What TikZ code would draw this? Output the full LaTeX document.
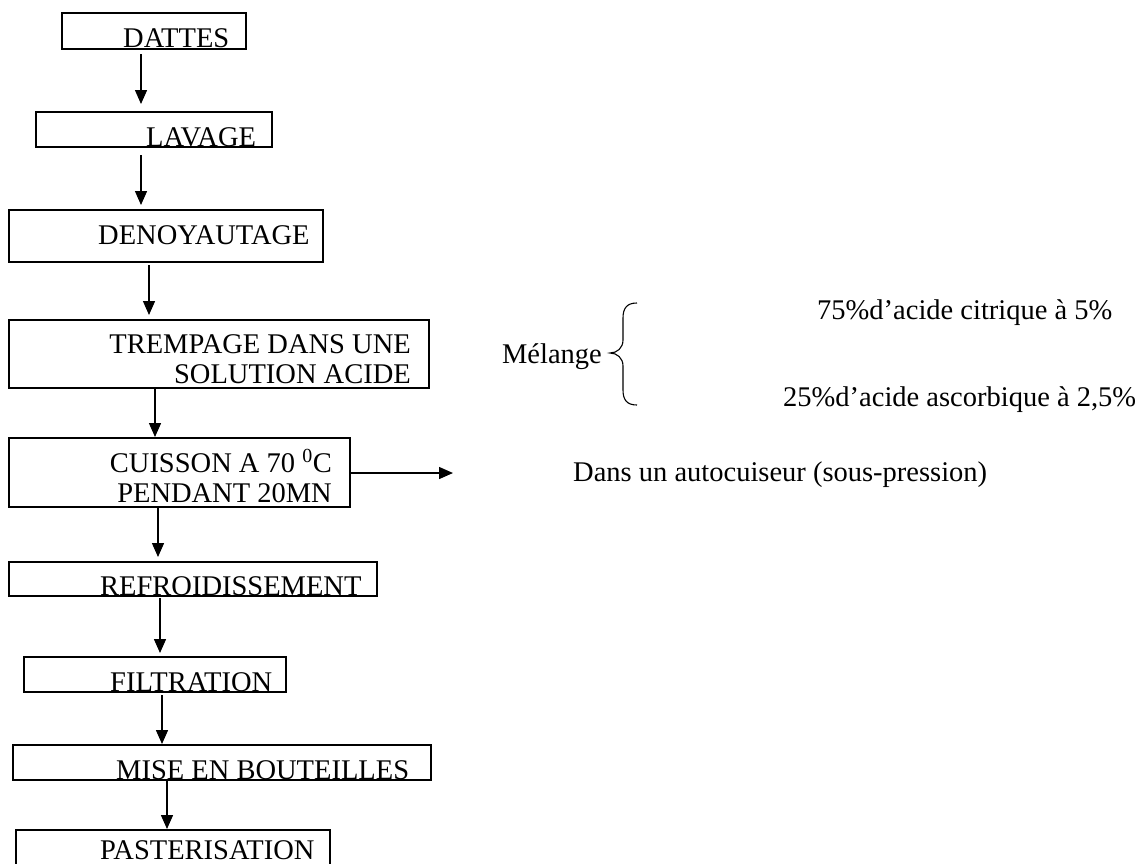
\documentclass[tikz,border=0pt]{standalone}
\usepackage{fontspec}
\setmainfont{Liberation Serif}
\usetikzlibrary{arrows.meta}
\begin{document}
\begin{tikzpicture}[x=1pt,y=-1pt,
  txt/.style={font=\fontsize{28.5}{33}\selectfont, inner sep=0pt},
  box/.style={draw, line width=1.4pt, inner sep=0pt, outer sep=0pt},
  arr/.style={line width=1.4pt, -{Triangle[width=12pt,length=14pt]}}]
\useasboundingbox (0,0) rectangle (1139,863);
\clip (0,0) rectangle (1139,863);

% process boxes
\node[box, minimum width=184pt, minimum height=36pt] (dattes) at (154,31) {};
\node[box, minimum width=236pt, minimum height=35pt] (lavage) at (154,129.5) {};
\node[box, minimum width=314pt, minimum height=52pt] (denoy) at (166,236) {};
\node[box, minimum width=420pt, minimum height=68pt] (tremp) at (219,354) {};
\node[box, minimum width=341pt, minimum height=69pt] (cuis) at (179.5,472.5) {};
\node[box, minimum width=368pt, minimum height=34pt] (refr) at (193,579) {};
\node[box, minimum width=262pt, minimum height=35pt] (filt) at (155,674.5) {};
\node[box, minimum width=418pt, minimum height=35pt] (mise) at (222,762.5) {};
\node[box, minimum width=314pt, minimum height=50pt] (past) at (173,855) {};

% box labels
\node[txt, anchor=base west] (tdattes) at (123,47) {DATTES};
\node[txt, anchor=base west] (tlavage) at (146,146) {LAVAGE};
\node[txt, anchor=base west] (tdenoy) at (98,244) {DENOYAUTAGE};
\node[txt, anchor=base east] (ttremp1) at (411,353) {TREMPAGE DANS UNE};
\node[txt, anchor=base east] (ttremp2) at (411,383) {SOLUTION ACIDE};
\node[txt, anchor=base east] (tcuis1) at (332,472) {CUISSON A 70 \textsuperscript{0}C};
\node[txt, anchor=base east] (tcuis2) at (332,502) {PENDANT 20MN};
\node[txt, anchor=base west] (trefr) at (100,595) {REFROIDISSEMENT};
\node[txt, anchor=base west] (tfilt) at (110,691) {FILTRATION};
\node[txt, anchor=base west] (tmise) at (116,779) {MISE EN BOUTEILLES};
\node[txt, anchor=base west] (tpast) at (100,859) {PASTERISATION};

% flow arrows
\draw[arr, shorten <=5pt, shorten >=8pt] (dattes.south -| 141,0) -- (lavage.north -| 141,0);
\draw[arr, shorten <=8pt, shorten >=5pt] (lavage.south -| 141,0) -- (denoy.north -| 141,0);
\draw[arr, shorten <=3pt, shorten >=5pt] (denoy.south -| 149,0) -- (tremp.north -| 149,0);
\draw[arr, shorten >=1pt] (tremp.south -| 155,0) -- (cuis.north -| 155,0);
\draw[arr, shorten >=5pt] (cuis.south -| 158,0) -- (refr.north -| 158,0);
\draw[arr, shorten <=2pt, shorten >=4pt] (refr.south -| 160,0) -- (filt.north -| 160,0);
\draw[arr, shorten <=3pt, shorten >=1pt] (filt.south -| 162,0) -- (mise.north -| 162,0);
\draw[arr, shorten >=1pt] (mise.south -| 167,0) -- (past.north -| 167,0);

% side note on the cooking step
\coordinate (cuisout) at (453,473);
\draw[arr] (cuis.east |- cuisout) -- (cuisout);
\node[txt, anchor=base west] (auto) at (573,481) {Dans un autocuiseur (sous-pression)};

% acid mixture
\node[txt, anchor=base east] (mel) at (602,363) {Mélange};
\draw[line width=1.1pt] (637,303) .. controls (627,303) and (623,308) .. (623,318)
  -- (623,340) .. controls (623,348) and (617,353) .. (610,353)
  .. controls (617,353) and (623,358) .. (623,366)
  -- (623,390) .. controls (623,400) and (627,405) .. (637,405);
\node[txt, anchor=base west] (cit) at (817,319) {75\%d’acide citrique à 5\%};
\node[txt, anchor=base west] (asc) at (783,406) {25\%d’acide ascorbique à 2,5\%};
\end{tikzpicture}
\end{document}
